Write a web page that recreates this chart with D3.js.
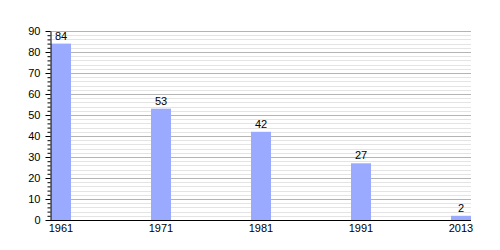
<!DOCTYPE html>
<html>
<head>
<meta charset="utf-8">
<script src="https://cdn.jsdelivr.net/npm/d3@7"></script>
<style>
  body { margin: 0; background: #fff; }
  text { font-family: "Liberation Sans", Arial, sans-serif; font-size: 11px; fill: #000; }
</style>
</head>
<body>
<svg id="canvas" width="500" height="250"></svg>
<script>
let years = ['1961', '1971', '1981', '1991', '2013'];
let values = [84, 53, 42, 27, 2];
let majorTicks = [0, 10, 20, 30, 40, 50, 60, 70, 80, 90];

let canvas = d3.select('#canvas');

let plotLeft = 50, plotRight = 471, plotTop = 31, plotBottom = 220;

let xScale = d3.scaleBand()
                .domain(years)
                .range([51, plotRight])
                .paddingInner(0.8)
                .paddingOuter(0);

let yScale = d3.scaleLinear()
                .domain([0, 90])
                .range([plotBottom, plotTop]);

let minorTicks = d3.range(0, 91, 2);

// grid
canvas.append('g')
    .selectAll('line')
    .data(minorTicks)
    .enter()
    .append('line')
    .attr('x1', plotLeft)
    .attr('x2', plotRight)
    .attr('y1', (d) => Math.round(yScale(d)) + 0.5)
    .attr('y2', (d) => Math.round(yScale(d)) + 0.5)
    .attr('stroke', (d) => d % 10 === 0 ? '#b4b4b4' : '#e4e4e4')
    .attr('stroke-width', 1);

// bars
canvas.append('g')
    .selectAll('rect')
    .data(values)
    .enter()
    .append('rect')
    .attr('x', (v, i) => xScale(years[i]))
    .attr('y', (v) => yScale(v))
    .attr('width', xScale.bandwidth())
    .attr('height', (v) => plotBottom - yScale(v))
    .attr('fill', '#99aaff');

// value labels
canvas.append('g')
    .selectAll('text')
    .data(values)
    .enter()
    .append('text')
    .attr('x', (v, i) => xScale(years[i]) + xScale.bandwidth() / 2)
    .attr('y', (v) => yScale(v) - 4)
    .attr('text-anchor', 'middle')
    .text((v) => v);

// y axis
let yAxis = d3.axisLeft(yScale)
                .tickValues(majorTicks)
                .tickSize(5)
                .tickSizeOuter(0)
                .tickPadding(5);

let yg = canvas.append('g')
    .attr('transform', 'translate(' + (plotLeft + 0.5) + ',0)')
    .call(yAxis);
yg.select('.domain').attr('stroke', '#000');
yg.selectAll('text').style('font-family', '"Liberation Sans", Arial, sans-serif').style('font-size', '11px');

let yMinor = d3.axisLeft(yScale)
                .tickValues(minorTicks.filter((d) => d % 10 !== 0))
                .tickSize(3)
                .tickFormat('');
canvas.append('g')
    .attr('transform', 'translate(' + (plotLeft + 0.5) + ',0)')
    .call(yMinor)
    .select('.domain').remove();

// x axis line
canvas.append('line')
    .attr('x1', plotLeft)
    .attr('x2', plotRight)
    .attr('y1', plotBottom + 0.5)
    .attr('y2', plotBottom + 0.5)
    .attr('stroke', '#000')
    .attr('stroke-width', 1.2);

// x labels
canvas.append('g')
    .selectAll('text')
    .data(years)
    .enter()
    .append('text')
    .attr('x', (y) => xScale(y) + xScale.bandwidth() / 2)
    .attr('y', plotBottom + 12)
    .attr('text-anchor', 'middle')
    .text((y) => y);
</script>
</body>
</html>
